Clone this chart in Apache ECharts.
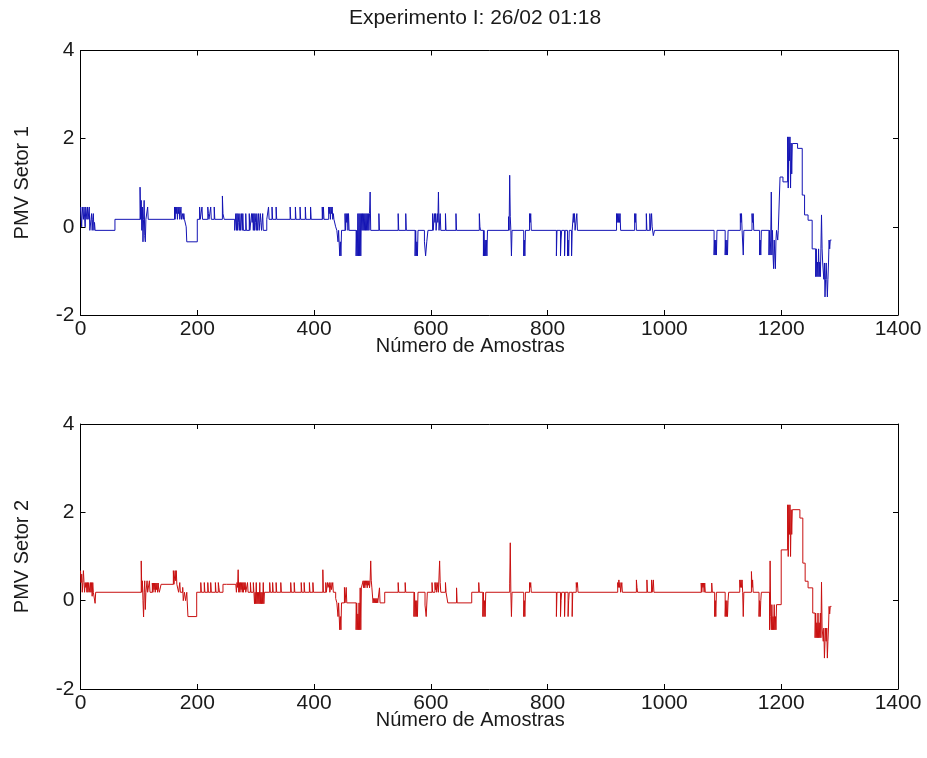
<!DOCTYPE html>
<html>
<head>
<meta charset="utf-8">
<script src="https://cdn.jsdelivr.net/npm/echarts@6/dist/echarts.min.js"></script>
<style>
html,body{margin:0;padding:0;background:#fff;}
#chart{width:927px;height:758px;}
</style>
</head>
<body>
<div id="chart"></div>
<script>
// Title and axis texts
var chartTitle = "Experimento I: 26/02 01:18";
var xAxisName = "Número de Amostras";
var yAxisNames = ["PMV Setor 1", "PMV Setor 2"];
var xRange = [0, 1400, 200];
var yRange = [-2, 4, 2];

// PMV Setor 1: [sample, value] points where the held value changes
var setor1 = [
[0,0.45],[2,0.0],[3,0.45],[5,0.17],[6,0.45],[8,0.0],[9,0.45],[11,0.17],[12,0.45],[13,0.17],[15,0.45],[16,-0.08],[18,0.17],[19,0.3],[20,-0.08],[21,0.17],[22,0.3],[23,-0.08],[24,0.1],[25,-0.08],
[59,0.17],
[102,0.9],[103,0.17],[104,0.6],[105,-0.08],[106,0.45],[107,-0.34],[108,0.17],[109,0.6],[110,-0.2],[111,-0.34],[112,0.17],[115,0.45],[116,0.17],
[161,0.45],[162,0.17],[163,0.45],[164,0.3],[165,0.45],[166,0.17],[167,0.45],[168,0.3],[169,0.45],[170,0.17],[172,0.45],[173,0.17],[175,0.3],[176,0.17],[177,0.3],[178,0.17],[181,0.0],[182,-0.34],
[200,0.17],[204,0.45],[205,0.17],[208,0.45],[209,0.17],[218,0.45],[219,0.3],[220,0.17],[223,0.45],[224,0.17],[229,0.45],[230,0.17],[243,0.7],[244,0.3],[246,0.17],
[264,-0.08],
[266,0.3],[267,-0.08],[268,0.3],[269,-0.08],[270,0.3],[271,0.1],[272,-0.08],[273,0.3],[274,-0.08],[276,0.3],[277,-0.08],[278,0.3],[279,-0.08],[283,0.3],[284,-0.08],[289,0.3],[290,-0.08],[293,0.3],[294,0.1],[295,0.3],[296,-0.08],[297,0.3],[298,-0.08],[299,0.3],[300,0.1],[301,-0.08],[302,0.3],[303,-0.08],[305,0.3],[306,-0.08],[308,0.3],[309,0.1],[310,-0.08],[312,0.3],[313,-0.08],[319,0.17],
[322,0.45],[323,0.17],[328,0.45],[329,0.17],[335,0.45],[336,0.17],[359,0.45],[360,0.17],[368,0.45],[369,0.17],[376,0.45],[377,0.17],[385,0.45],[386,0.17],[394,0.45],[395,0.17],[414,0.45],[415,0.17],[416,0.45],[417,0.17],[425,0.45],[426,0.3],[427,0.45],[428,0.17],[429,0.45],[430,0.3],[431,0.45],[432,0.17],[433,0.3],[434,0.17],
[437,0.0],[439,-0.08],[441,-0.34],[442,-0.08],[444,-0.66],[445,-0.34],[446,-0.66],[447,-0.08],
[453,0.3],[454,-0.08],[455,0.3],[456,0.1],[457,0.3],[458,-0.08],[459,0.3],[460,-0.08],
[472,-0.66],[473,-0.08],[474,-0.66],[475,0.3],[476,-0.66],[477,0.3],[478,-0.66],[479,0.3],[480,-0.66],[481,0.3],[482,-0.08],[483,0.3],[484,-0.08],[485,0.3],[486,-0.08],[487,0.3],[488,-0.08],[489,0.3],[490,-0.08],[491,0.3],[492,-0.08],[493,0.3],[494,-0.08],[495,0.3],[496,0.79],[497,-0.08],
[511,0.3],[512,-0.08],[544,0.3],[545,-0.08],[557,0.3],[558,-0.08],
[573,-0.66],[574,-0.08],[575,-0.66],[576,-0.34],[577,-0.66],[578,-0.08],
[589,-0.34],[591,-0.66],[593,-0.34],[595,-0.08],
[603,0.3],[604,-0.08],[606,0.3],[607,0.1],[608,0.3],[609,-0.08],[611,0.3],[612,0.1],[613,0.79],[614,-0.08],[616,0.3],[617,-0.08],[625,0.3],[626,-0.08],[643,0.3],[644,-0.08],[683,0.3],[684,0.0],[685,-0.08],
[690,-0.66],[691,-0.08],[692,-0.66],[693,-0.3],[694,-0.66],[695,-0.3],[696,-0.66],[697,-0.08],
[733,0.23],[734,-0.08],[735,1.17],[736,0.23],[737,-0.08],[738,-0.66],[739,-0.08],
[759,-0.66],[760,-0.3],[761,-0.66],[762,-0.08],[769,0.3],[770,0.1],[771,0.3],[772,-0.08],
[815,-0.66],[816,-0.08],[822,-0.66],[823,-0.3],[824,-0.08],[829,-0.66],[830,-0.08],[834,-0.66],[835,-0.3],[836,-0.66],[837,-0.08],[841,-0.66],[842,-0.08],[844,0.3],[845,0.1],[846,0.3],[847,-0.08],[850,0.3],[851,-0.08],
[918,0.3],[919,0.1],[920,0.3],[921,0.1],[922,0.3],[923,0.1],[924,0.3],[925,-0.08],
[949,0.3],[950,0.1],[951,0.3],[952,-0.08],[969,0.3],[970,-0.08],[975,0.3],[976,-0.08],[978,0.3],[979,0.0],[981,-0.2],[983,-0.08],
[1085,-0.64],[1086,-0.3],[1087,-0.64],[1088,-0.3],[1089,-0.64],[1090,-0.08],[1104,-0.64],[1105,-0.3],[1106,-0.64],[1107,-0.3],[1108,-0.64],[1109,-0.08],
[1130,0.3],[1131,0.1],[1132,0.3],[1133,-0.08],[1135,-0.64],[1136,-0.08],[1150,0.3],[1151,0.1],[1152,0.3],[1153,-0.08],[1163,-0.64],[1164,-0.3],[1165,-0.64],[1166,-0.08],
[1179,-0.64],[1180,-0.08],[1181,-0.64],[1182,-0.3],[1183,0.79],[1184,-0.64],[1185,-0.08],[1186,-0.64],[1187,-0.95],[1188,-0.3],[1189,-0.64],[1190,-0.95],[1191,-0.3],[1192,-0.08],[1194,-0.3],[1195,-0.08],
[1198,1.13],[1203,1.02],[1211,2.04],[1212,0.88],[1213,2.04],[1214,1.5],[1215,2.04],[1216,0.88],[1217,1.9],[1218,1.2],[1219,1.89],[1228,1.78],[1236,0.72],[1240,0.27],[1246,0.15],[1253,-0.5],
[1259,-1.13],[1260,-0.5],[1261,-1.13],[1262,-0.8],[1263,-1.13],[1264,-0.5],[1265,-1.13],[1266,-0.8],[1267,-1.13],[1268,-0.5],[1269,0.27],[1270,-0.5],[1271,-0.82],
[1273,-1.19],[1274,-0.82],[1275,-1.59],[1276,-1.19],[1277,-0.82],[1278,-1.19],[1279,-1.59],[1280,-1.19],[1281,-0.82],[1282,-0.3],[1283,-0.5],[1284,-0.3],[1286,-0.3]
];

// PMV Setor 2: [sample, value] points where the held value changes
var setor2 = [
[0,0.68],[1,0.41],[2,0.6],[3,0.19],[4,0.41],[5,0.68],[6,0.41],[7,0.19],[8,0.41],[9,0.3],[10,0.41],[11,0.19],[12,0.41],[13,0.19],[14,0.41],[16,0.19],[17,0.41],[18,0.19],[19,0.41],[20,0.1],[21,0.41],[22,0.19],[25,-0.06],[26,0.19],
[104,0.9],[105,0.19],[106,0.45],[107,0.0],[108,-0.37],[109,0.19],[110,0.45],[111,-0.2],[112,0.19],[114,0.45],[115,0.19],[118,0.45],[119,0.19],
[123,0.4],[124,0.19],[125,0.4],[126,0.25],[127,0.4],[128,0.19],[129,0.4],[130,0.25],[131,0.4],[132,0.19],[133,0.4],[134,0.25],[135,0.19],
[138,0.37],[159,0.68],[160,0.37],[162,0.68],[163,0.45],[164,0.68],[165,0.37],[167,0.41],[168,0.19],[170,0.41],[171,0.19],[175,0.3],[176,0.0],[178,0.19],[180,0.0],[182,0.19],[184,-0.36],[199,0.19],
[206,0.41],[207,0.19],[212,0.41],[213,0.19],[218,0.41],[219,0.19],[223,0.41],[224,0.19],[231,0.41],[232,0.19],[236,0.41],[237,0.3],[238,0.19],
[244,0.37],[250,0.41],[251,0.37],[266,0.41],[267,0.19],[268,0.41],[269,0.3],[270,0.7],[271,0.19],[272,0.41],[273,0.19],[274,0.41],[275,0.25],[276,0.41],[277,0.19],[278,0.41],[279,0.19],[280,0.41],[281,0.25],[282,0.41],[283,0.19],
[286,0.41],[287,0.19],[291,0.41],[292,0.19],[296,0.41],[297,0.19],[298,-0.07],[299,0.19],[300,-0.07],[301,0.41],[302,-0.07],[303,0.19],[304,-0.07],[305,0.19],[306,-0.07],[307,0.41],[308,-0.07],[309,0.19],[310,-0.07],[311,0.19],[312,-0.07],[313,0.41],[314,-0.07],[315,0.19],
[324,0.41],[325,0.19],[329,0.41],[330,0.19],[335,0.41],[336,0.19],[343,0.41],[344,0.19],[360,0.41],[361,0.19],[366,0.41],[367,0.19],[378,0.41],[379,0.19],[383,0.41],[384,0.19],[392,0.41],[393,0.19],[398,0.41],[399,0.19],[415,0.7],[416,0.19],[420,0.41],[421,0.19],[423,0.41],[424,0.3],[426,0.41],[427,0.19],[429,0.41],[430,0.25],[432,0.41],[433,0.19],
[437,0.05],[439,-0.05],[441,-0.36],[442,-0.05],[444,-0.66],[445,-0.36],[446,-0.66],[447,-0.05],[452,0.3],[453,-0.05],[455,0.3],[456,-0.05],
[472,-0.66],[473,-0.05],[474,-0.66],[475,-0.3],[476,-0.66],[477,-0.05],[478,-0.66],[479,0.29],[480,-0.66],[481,0.29],[484,0.45],[485,0.29],[486,0.45],[487,0.29],[488,0.45],[489,0.35],[490,0.45],[491,0.29],[492,0.45],[493,0.35],[494,0.45],[495,0.29],[496,0.45],[497,0.9],[498,0.45],[499,0.29],
[501,-0.05],[502,0.05],[503,-0.05],[504,0.05],[505,-0.05],[506,0.05],[507,-0.05],[508,0.05],[509,-0.05],[512,0.29],[513,-0.05],[521,0.19],
[544,0.41],[545,0.19],[556,0.41],[557,0.19],[571,-0.36],[572,0.19],[573,-0.36],[574,0.0],[575,-0.36],[576,0.0],[577,-0.36],[578,0.19],[590,-0.1],[592,-0.36],[594,0.19],
[602,0.41],[603,0.19],[607,0.41],[608,0.25],[609,0.41],[610,0.19],[612,0.41],[613,0.19],[615,0.9],[616,0.41],[617,0.19],[625,0.41],[626,0.19],[629,-0.05],[644,0.29],[645,-0.05],[670,0.19],
[682,0.41],[683,0.19],[689,-0.36],[690,0.19],[691,-0.36],[692,0.0],[693,-0.36],[694,0.19],
[735,0.38],[736,1.31],[737,0.19],[738,-0.36],[739,0.19],[759,-0.36],[760,0.0],[761,-0.36],[762,0.19],[769,0.41],[770,0.3],[771,0.41],[772,0.19],
[815,-0.36],[816,0.19],[822,-0.36],[823,0.0],[824,0.19],[829,-0.36],[830,0.19],[835,-0.36],[836,0.0],[837,0.19],[842,-0.36],[843,0.19],[849,0.41],[850,0.3],[851,0.41],[852,0.19],
[920,0.41],[921,0.3],[922,0.47],[923,0.3],[924,0.41],[925,0.19],[927,0.41],[928,0.19],
[952,0.47],[953,0.3],[954,0.19],[970,0.47],[971,0.19],[978,0.47],[979,0.19],[981,0.47],[982,0.19],
[1063,0.4],[1064,0.19],[1065,0.4],[1066,0.3],[1067,0.4],[1068,0.19],[1069,0.4],[1070,0.19],[1081,0.4],[1082,0.19],[1086,-0.36],[1087,0.0],[1088,-0.36],[1089,0.19],
[1104,-0.36],[1105,0.0],[1106,-0.36],[1107,0.0],[1108,-0.36],[1109,0.0],[1110,0.19],
[1129,0.47],[1130,0.3],[1131,0.47],[1132,0.3],[1133,0.47],[1134,0.19],[1135,-0.36],[1136,0.19],
[1149,0.66],[1150,0.3],[1151,0.47],[1152,0.19],[1162,-0.36],[1163,0.0],[1164,-0.36],[1165,0.0],[1166,0.19],
[1180,-0.66],[1181,0.9],[1182,-0.36],[1183,-0.66],[1184,-0.09],[1185,-0.66],[1186,-0.36],[1187,-0.66],[1188,-0.09],[1189,-0.66],[1190,-0.36],[1191,-0.66],[1192,-0.09],[1200,1.15],
[1211,2.17],[1212,1.0],[1213,2.17],[1214,1.5],[1215,2.17],[1216,1.0],[1217,2.06],[1218,1.5],[1219,2.06],[1232,1.87],[1237,0.85],[1241,0.44],[1246,0.29],[1254,-0.28],
[1258,-0.84],[1259,-0.28],[1260,-0.84],[1261,-0.5],[1262,-0.84],[1263,-0.28],[1264,-0.84],[1265,-0.5],[1266,-0.84],[1267,-0.28],[1268,-0.84],[1269,0.42],[1270,-0.62],[1272,-0.92],[1273,-0.62],[1274,-1.3],[1275,-0.92],[1276,-0.62],[1277,-0.92],[1278,-0.62],[1279,-1.3],[1280,-0.92],[1281,-0.62],[1282,-0.13],[1283,-0.3],[1284,-0.13],[1286,-0.13]
];

var FONT = "'Liberation Sans', Arial, sans-serif";
var TXT = '#1a1a1a';

var chart = echarts.init(document.getElementById('chart'), null, {renderer: 'canvas'});

function plainNum(v) { return String(v); }

function xAxes(gridIndex) {
  var base = {
    gridIndex: gridIndex, type: 'value', min: xRange[0], max: xRange[1], interval: xRange[2],
    splitLine: {show: false},
    axisLine: {show: true, onZero: false, lineStyle: {color: '#000', width: 1}},
    axisTick: {show: true, inside: true, length: 5, lineStyle: {color: '#000'}}
  };
  return [
    Object.assign({}, base, {
      position: 'bottom', name: xAxisName, nameLocation: 'middle', nameGap: 21, nameMoveOverlap: false,
      nameTextStyle: {fontFamily: FONT, fontSize: 20, color: TXT, padding: [0, 38, 0, 0]},
      axisLabel: {show: true, fontFamily: FONT, fontSize: 21, color: TXT, margin: 4, formatter: plainNum}
    }),
    Object.assign({}, base, {position: 'top', axisLabel: {show: false}})
  ];
}
function yAxes(gridIndex, name) {
  var base = {
    gridIndex: gridIndex, type: 'value', min: yRange[0], max: yRange[1], interval: yRange[2],
    splitLine: {show: false},
    axisLine: {show: true, onZero: false, lineStyle: {color: '#000', width: 1}},
    axisTick: {show: true, inside: true, length: 5, lineStyle: {color: '#000'}}
  };
  return [
    Object.assign({}, base, {
      position: 'left', name: name, nameLocation: 'middle', nameGap: 48, nameMoveOverlap: false,
      nameTextStyle: {fontFamily: FONT, fontSize: 20, color: TXT},
      axisLabel: {show: true, fontFamily: FONT, fontSize: 21, color: TXT, margin: 6, formatter: plainNum}
    }),
    Object.assign({}, base, {position: 'right', axisLabel: {show: false}})
  ];
}

var option = {
  animation: false,
  backgroundColor: '#ffffff',
  title: {
    text: chartTitle, left: 470, top: 3, textAlign: 'center',
    textStyle: {fontFamily: FONT, fontSize: 21, fontWeight: 'normal', color: TXT}
  },
  grid: [
    {left: 80.5, top: 50.5, width: 817.5, height: 264.5},
    {left: 80.5, top: 424, width: 817.5, height: 265}
  ],
  xAxis: xAxes(0).concat(xAxes(1)),
  yAxis: yAxes(0, yAxisNames[0]).concat(yAxes(1, yAxisNames[1])),
  series: [
    {
      type: 'line', xAxisIndex: 0, yAxisIndex: 0, data: setor1, step: 'end',
      showSymbol: false, symbol: 'none', sampling: null,
      lineStyle: {color: '#1414b4', width: 1}
    },
    {
      type: 'line', xAxisIndex: 2, yAxisIndex: 2, data: setor2, step: 'end',
      showSymbol: false, symbol: 'none', sampling: null,
      lineStyle: {color: '#c81010', width: 1}
    }
  ]
};
chart.setOption(option);
</script>
</body>
</html>
